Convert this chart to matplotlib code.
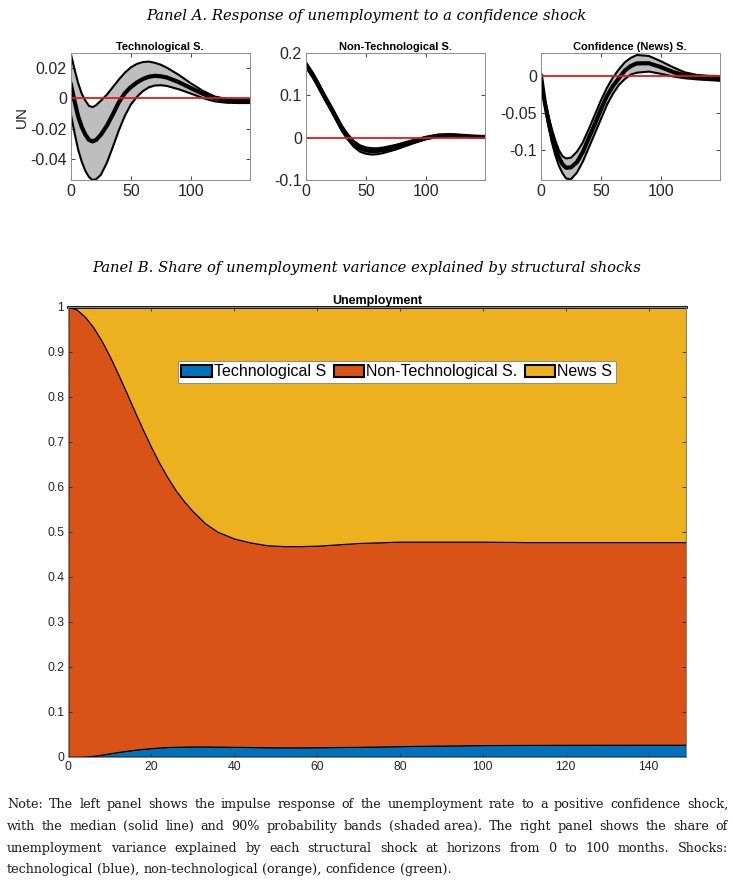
import matplotlib
matplotlib.use("Agg")
import matplotlib.pyplot as plt
from matplotlib.patches import Patch
from matplotlib.font_manager import FontProperties

plt.rcParams['font.family'] = ['Liberation Sans', 'DejaVu Sans']
plt.rcParams['axes.unicode_minus'] = False

# --- Panel A: impulse responses (median and 90% bands) ---
irf_h = [0, 3, 6, 9, 12, 15, 18, 21, 25, 30, 35, 40, 45, 50, 55, 60, 65, 70, 75,
         80, 90, 100, 110, 120, 130, 140, 149]

tech_med = [0.009, -0.002, -0.012, -0.019, -0.024, -0.0275, -0.0285, -0.0275, -0.024,
            -0.018, -0.0105, -0.0025, 0.0035, 0.0075, 0.0105, 0.0128, 0.0143, 0.0149,
            0.0146, 0.0138, 0.0107, 0.0068, 0.0030, 0.0002, -0.0012, -0.0017, -0.0017]
tech_up = [0.029, 0.019, 0.010, 0.003, -0.0015, -0.0050, -0.0058, -0.0045, -0.0015,
           0.0025, 0.0075, 0.0125, 0.0170, 0.0205, 0.0228, 0.0240, 0.0243, 0.0235,
           0.0222, 0.0203, 0.0155, 0.0100, 0.0050, 0.0012, -0.0004, -0.0009, -0.0010]
tech_lo = [-0.011, -0.023, -0.034, -0.042, -0.048, -0.052, -0.054, -0.0535, -0.0505,
           -0.0425, -0.032, -0.021, -0.0115, -0.004, 0.001, 0.0048, 0.0073, 0.0085,
           0.0087, 0.0082, 0.006, 0.0032, 0.0002, -0.0020, -0.0029, -0.0031, -0.0031]

nontech_med = [0.172, 0.159, 0.146, 0.131, 0.115, 0.099, 0.084, 0.069, 0.048, 0.022,
               0.002, -0.015, -0.025, -0.030, -0.032, -0.031, -0.029, -0.026, -0.022,
               -0.018, -0.009, -0.001, 0.0045, 0.006, 0.0045, 0.0025, 0.0016]
nontech_up = [0.178, 0.165, 0.152, 0.137, 0.121, 0.105, 0.090, 0.075, 0.054, 0.028,
              0.008, -0.008, -0.018, -0.023, -0.025, -0.025, -0.023, -0.020, -0.017,
              -0.013, -0.005, 0.002, 0.007, 0.008, 0.006, 0.0035, 0.0025]
nontech_lo = [0.166, 0.153, 0.140, 0.125, 0.109, 0.093, 0.078, 0.063, 0.042, 0.015,
              -0.005, -0.022, -0.033, -0.038, -0.040, -0.039, -0.036, -0.032, -0.028,
              -0.023, -0.013, -0.004, 0.002, 0.004, 0.003, 0.0015, 0.0008]

news_med = [0.0, -0.034, -0.059, -0.080, -0.097, -0.110, -0.119, -0.1235, -0.123,
            -0.116, -0.102, -0.083, -0.0645, -0.045, -0.027, -0.0135, -0.003, 0.0073,
            0.0135, 0.017, 0.0172, 0.012, 0.0055, 0.001, -0.0012, -0.0022, -0.0027]
news_up = [0.0, -0.030, -0.052, -0.071, -0.087, -0.100, -0.108, -0.111, -0.110,
           -0.102, -0.089, -0.071, -0.052, -0.033, -0.016, -0.002, 0.009, 0.0185,
           0.0245, 0.0283, 0.027, 0.020, 0.012, 0.005, 0.0015, 0.0003, 0.0]
news_lo = [0.0, -0.038, -0.066, -0.089, -0.107, -0.121, -0.131, -0.138, -0.139,
           -0.130, -0.115, -0.096, -0.077, -0.058, -0.039, -0.024, -0.012, -0.004,
           0.002, 0.0045, 0.006, 0.003, -0.0005, -0.003, -0.0045, -0.0055, -0.0064]

irf_titles = ["Technological S.", "Non-Technological S.", "Confidence (News) S."]
irf_ylims = [(-0.054, 0.030), (-0.1, 0.2), (-0.14, 0.031)]
irf_yticks = [[-0.04, -0.02, 0, 0.02], [-0.1, 0, 0.1, 0.2], [-0.1, -0.05, 0]]
irf_yticklabels = [["-0.04", "-0.02", "0", "0.02"], ["-0.1", "0", "0.1", "0.2"],
                   ["-0.1", "-0.05", "0"]]

# --- Panel B: variance decomposition shares ---
vd_h = [0, 2, 4, 6, 8, 10, 12, 14, 16, 18, 20, 22, 24, 26, 28, 30, 33, 36, 40, 44,
        48, 52, 56, 60, 65, 70, 80, 90, 100, 110, 120, 130, 140, 149]
share_tech = [0.0, 0.0, 0.0005, 0.002, 0.0045, 0.0075, 0.0105, 0.013, 0.0155, 0.0175,
              0.019, 0.0205, 0.0215, 0.022, 0.0225, 0.0228, 0.0228, 0.0225, 0.022,
              0.0215, 0.021, 0.0208, 0.0208, 0.021, 0.0215, 0.022, 0.0235, 0.0248,
              0.0258, 0.0262, 0.0265, 0.0266, 0.0267, 0.0267]
share_nontech = [1.0, 0.994, 0.9775, 0.953, 0.9205, 0.8825, 0.8405, 0.797, 0.7525,
                 0.7095, 0.669, 0.6315, 0.5985, 0.569, 0.5445, 0.5232, 0.4962, 0.4775,
                 0.463, 0.4545, 0.449, 0.4472, 0.4472, 0.448, 0.4505, 0.453, 0.4545,
                 0.4532, 0.4522, 0.4508, 0.4505, 0.4504, 0.4503, 0.4503]
share_news = [0.0, 0.006, 0.022, 0.045, 0.075, 0.110, 0.149, 0.190, 0.232, 0.273,
              0.312, 0.348, 0.380, 0.409, 0.433, 0.454, 0.481, 0.500, 0.515, 0.524,
              0.530, 0.532, 0.532, 0.531, 0.528, 0.525, 0.522, 0.522, 0.522, 0.523,
              0.523, 0.523, 0.523, 0.523]
vd_labels = ["Technological S", "Non-Technological S.", "News S"]
vd_colors = ["#0072BD", "#D95319", "#EDB120"]

# note text, one list of words per printed line
note_lines = [
    "Note: The left panel shows the impulse response of the unemployment rate to a positive confidence shock,",
    "with the median (solid line) and 90% probability bands (shaded area). The right panel shows the share of",
    "unemployment variance explained by each structural shock at horizons from 0 to 100 months. Shocks:",
    "technological (blue), non-technological (orange), confidence (green).",
]

W, H = 733, 880
fig = plt.figure(figsize=(W / 100, H / 100), dpi=100)


def px_axes(left, top, right, bottom):
    return fig.add_axes([left / W, 1 - bottom / H, (right - left) / W, (bottom - top) / H])


def matlab_look(ax, size):
    ax.tick_params(direction='in', top=True, right=True, length=3, width=0.6,
                   labelsize=size, colors='#262626', pad=3)
    for s in ax.spines.values():
        s.set_color('#8c8c8c')
        s.set_linewidth(0.7)


fig.text(0.5, 1 - 16 / H, "Panel A. Response of unemployment to a confidence shock",
         ha='center', va='center', fontsize=10.6, style='italic', family='DejaVu Serif')

irf_data = [(tech_med, tech_up, tech_lo), (nontech_med, nontech_up, nontech_lo),
            (news_med, news_up, news_lo)]
lefts = [71, 306, 541]
for i, (med, up, lo) in enumerate(irf_data):
    ax = px_axes(lefts[i], 53, lefts[i] + 178.5, 180)
    ax.fill_between(irf_h, lo, up, color='#BEBEBE', lw=0)
    ax.plot(irf_h, up, color='k', lw=1.5)
    ax.plot(irf_h, lo, color='k', lw=1.5)
    ax.plot(irf_h, med, color='k', lw=3)
    ax.axhline(0, color='#E31A1C', lw=1.3)
    ax.set_xlim(0, 149)
    ax.set_ylim(*irf_ylims[i])
    ax.set_xticks([0, 50, 100])
    ax.set_yticks(irf_yticks[i])
    ax.set_yticklabels(irf_yticklabels[i])
    ax.set_title(irf_titles[i], fontsize=8, fontweight='bold', pad=2)
    matlab_look(ax, 11.5)
    if i == 0:
        ax.set_ylabel("UN", fontsize=11, color='#262626', labelpad=1)

fig.text(0.5, 1 - 268 / H,
         "Panel B. Share of unemployment variance explained by structural shocks",
         ha='center', va='center', fontsize=10.6, style='italic', family='DejaVu Serif')

axb = px_axes(68.3, 306.7, 686, 756.7)
axb.stackplot(vd_h, share_tech, share_nontech, share_news, colors=vd_colors,
              edgecolor='k', linewidth=0.8)
axb.plot([0, 149], [1, 1], color='k', lw=2, clip_on=False)
axb.set_xlim(0, 149)
axb.set_ylim(0, 1)
axb.set_xticks(range(0, 141, 20))
axb.set_yticks([i / 10 for i in range(11)])
axb.set_yticklabels(["0"] + ["%.1f" % (i / 10) for i in range(1, 10)] + ["1"])
axb.set_title("Unemployment", fontsize=9, fontweight='bold', pad=2)
matlab_look(axb, 8.8)
handles = [Patch(facecolor=c, edgecolor='k', lw=1.5) for c in vd_colors]
leg = axb.legend(handles, vd_labels, loc='center', bbox_to_anchor=(0.532, 0.855),
                 ncol=3, fontsize=11.5, handlelength=1.9, handleheight=0.8,
                 handletextpad=0.15, columnspacing=0.45, borderpad=0.2,
                 fancybox=False, framealpha=1)
leg.get_frame().set_edgecolor('#8c8c8c')
leg.get_frame().set_linewidth(0.7)

# justified note text: each line cut into chunks that are spread to fill the width
renderer = fig.canvas.get_renderer()
note_font = FontProperties(family='DejaVu Serif', size=9.2)
x0, x1 = 7, 728


def text_w(s):
    w, h, d = renderer.get_text_width_height_descent(s, note_font, ismath=False)
    return w


space_w = text_w("a a") - text_w("aa")
note_y = [808, 830, 852, 873]
for k, line in enumerate(note_lines):
    words = line.replace("shaded area", "shaded\u00a0area").split(" ")
    widths = [text_w(w) for w in words]
    if k < len(note_lines) - 1:
        gap = (x1 - x0 - sum(widths)) / (len(words) - 1)
    else:
        gap = space_w
    x = x0
    for w, wd in zip(words, widths):
        fig.text(x / W, 1 - note_y[k] / H, w, fontproperties=note_font,
                 ha='left', va='baseline', color='#1a1a1a')
        x += wd + gap

fig.savefig("out.png", dpi=100)
